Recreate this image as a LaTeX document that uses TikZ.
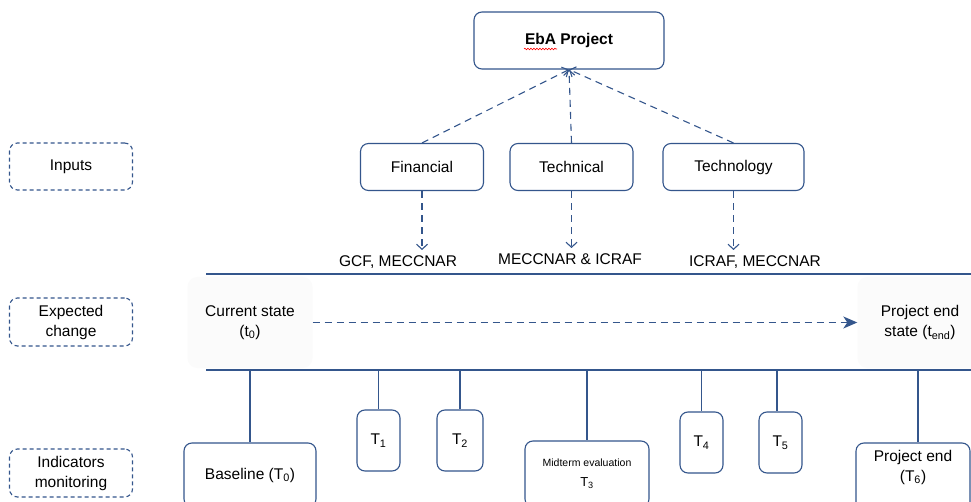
\documentclass[tikz,border=0pt]{standalone}
\usepackage{fontspec}
\setmainfont{Liberation Sans}
\usetikzlibrary{arrows.meta}
\usetikzlibrary{decorations.pathmorphing}

\definecolor{ebablue}{RGB}{52,86,140}

\tikzset{
  box/.style={draw=ebablue, line width=1.1pt, rounded corners=8pt, fill=white, align=center, inner sep=0pt},
  rowbox/.style={box, dash pattern=on 4pt off 3pt, minimum width=123, minimum height=47},
  statebox/.style={fill=black!1.5, rounded corners=10pt, align=center, inner sep=0pt, minimum width=125, minimum height=91},
  dline/.style={ebablue, line width=1.1pt, dash pattern=on 7pt off 5pt},
  openhead/.style={-{Straight Barb[length=5pt,width=11pt]}},
  bar/.style={ebablue, line width=1.1pt},
  tick/.style={ebablue, line width=1.1pt},
  bigtick/.style={ebablue, line width=2.2pt},
}

\begin{document}
\begin{tikzpicture}[x=1pt, y=-1pt, font=\fontsize{15.5}{20}\selectfont]
\fill[white] (0,0) rectangle (971,502);
\clip (0,0) rectangle (971,502);

% left column
\node[rowbox] (inputs) at (71,166.5) {Inputs};
\node[rowbox, minimum height=48] (change) at (71,322) {Expected\\change};
\node[rowbox, minimum height=48] (monitor) at (71,473) {Indicators\\monitoring};

% project and its inputs
\node[box, minimum width=190, minimum height=57] (eba) at (569,40.5) {\bfseries EbA Project};
\draw[red, line width=0.6pt, decorate, decoration={snake, amplitude=0.8pt, segment length=3pt}] (524,49) -- (557,49);

\node[box, minimum width=123, minimum height=47] (fin) at (422,167) {Financial};
\node[box, minimum width=123, minimum height=47] (tech) at (571.5,167) {Technical};
\node[box, minimum width=141, minimum height=47] (techno) at (733.5,167) {Technology};

\foreach \n in {fin,tech,techno}
  \draw[dline, openhead] (\n.north) -- (eba.south);

\node[inner sep=0pt] (gcf) at (398,262) {GCF, MECCNAR};
\node[inner sep=0pt] (icraf) at (570,259) {MECCNAR \& ICRAF};
\node[inner sep=0pt] (icraf2) at (755,262) {ICRAF, MECCNAR};

\draw[dline, openhead] (fin.south) -- (fin.south |- 0,250);
\draw[dline, openhead] (tech.south) -- (tech.south |- 0,248);
\draw[dline, openhead] (techno.south) -- (techno.south |- 0,250);

% expected change band
\draw[bar] (206,274) -- (971,274);
\draw[bar] (206,370) -- (971,370);

\node[statebox] (now) at (250,322.5) {Current state\\(t\textsubscript{0})};
\node[statebox] (later) at (920,322.5) {Project end\\state (t\textsubscript{end})};
\draw[dline, -{Stealth[length=14pt,width=12pt,inset=4pt]}] (now.east) -- (later.west);

% monitoring points
\node[box, minimum width=132, minimum height=64] (base) at (250,475) {Baseline (T\textsubscript{0})};
\node[box, minimum width=43, minimum height=61] (t1) at (378.5,440.5) {T\textsubscript{1}};
\node[box, minimum width=46, minimum height=61] (t2) at (460,440.5) {T\textsubscript{2}};
\node[box, minimum width=124, minimum height=66] (mid) at (587,474) {\fontsize{10.5}{15}\selectfont Midterm evaluation\\\fontsize{13}{15}\selectfont T\textsubscript{3}};
\node[box, minimum width=43, minimum height=61] (t4) at (701.5,442.5) {T\textsubscript{4}};
\node[box, minimum width=43, minimum height=61] (t5) at (780.5,442.5) {T\textsubscript{5}};
\node[box, minimum width=114, minimum height=70] (pend) at (913,478) {};
\node[align=center, inner sep=0pt] (pendtxt) at (913,467) {Project end\\(T\textsubscript{6})};

\coordinate (c0) at (250,370);
\coordinate (c1) at (378.5,370);
\coordinate (c2) at (460,370);
\coordinate (c3) at (587,370);
\coordinate (c4) at (701.5,370);
\coordinate (c5) at (777,370);
\coordinate (c6) at (918,370);

\draw[bigtick] (c0) -- (base.north);
\draw[tick] (c1) -- (t1.north);
\draw[tick] (c2) -- (t2.north);
\draw[tick] (c3) -- (mid.north);
\draw[tick] (c4) -- (t4.north);
\draw[tick] (c5) -- (c5 |- t5.north);
\draw[bigtick] (c6) -- (c6 |- pend.north);

\end{tikzpicture}
\end{document}
